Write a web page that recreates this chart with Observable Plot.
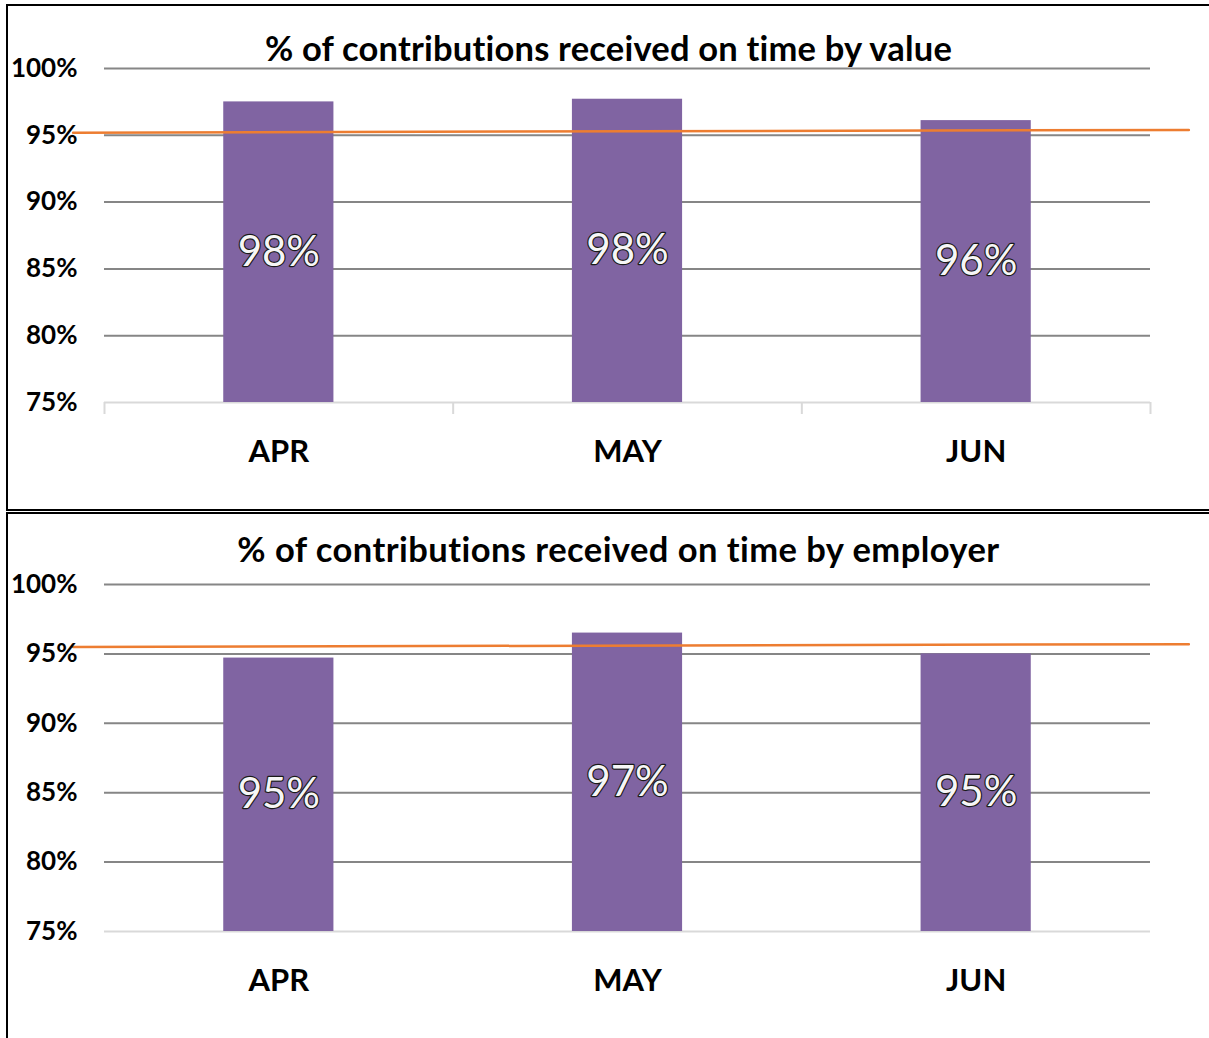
<!DOCTYPE html>
<html><head><meta charset="utf-8">
<script src="https://cdn.jsdelivr.net/npm/d3@7"></script>
<script src="https://cdn.jsdelivr.net/npm/@observablehq/plot@0.6"></script>
<style>
body{margin:0;width:1209px;height:1038px;overflow:hidden;background:#fff;position:relative;font-family:Lato,sans-serif}
.box{position:absolute;left:6px;width:1260px;border:2px solid #000;box-sizing:border-box}
.title{position:absolute;left:0;width:1217px;text-align:center;font-weight:700;font-size:34.5px;line-height:34px;color:#000;white-space:nowrap;font-variant-ligatures:none;letter-spacing:0.2px}
.chart{position:absolute;left:0}
svg text{font-variant-ligatures:none}
g[aria-label="value labels"] text{filter:drop-shadow(1.5px 1.5px 1px rgba(0,0,0,.55))}
</style></head>
<body>
<div class="box" style="top:4px;height:507px"></div>
<div class="box" style="top:512px;height:600px"></div>
<div id="c1" class="chart" style="top:0px"></div>
<div id="c2" class="chart" style="top:512px"></div>
<div class="title" style="top:31px">% of contributions received on time by value</div>
<div class="title" style="top:532px;left:10px;letter-spacing:0.45px">% of contributions received on time by employer</div>
<script>
const months = ["APR", "MAY", "JUN"];
const byValue = [97.5, 97.7, 96.1];
const byEmployer = [94.7, 96.5, 95.0];
const valueTarget = [95.2, 95.4];
const employerTarget = [95.5, 95.7];
const targetSpan = [-0.59, 2.61];
const yTicks = [75, 80, 85, 90, 95, 100];
const gridTicks = [80, 85, 90, 95, 100];
const categoryBounds = [-0.5, 0.5, 1.5, 2.5];

function makeChart(values, target, height, marginTop, showTicks) {
  const data = months.map((m, i) => ({i, m, v: values[i], label: Math.round(values[i]) + "%"}));
  const tgt = targetSpan.map((x, k) => ({x, y: target[k]}));
  const half = 0.158;
  return Plot.plot({
    width: 1209, height,
    marginLeft: 104, marginRight: 59, marginTop, marginBottom: 107,
    style: {background: "transparent", overflow: "visible", fontFamily: "Lato, sans-serif", maxWidth: "none"},
    x: {type: "linear", domain: [-0.5, 2.5]},
    y: {domain: [75, 100]},
    marks: [
      Plot.ruleY(gridTicks, {stroke: "#868686", strokeWidth: 2}),
      Plot.ruleY([75], {stroke: "#d9d9d9", strokeWidth: 2}),
      showTicks ? Plot.axisX(categoryBounds, {tickSize: 12, tickFormat: () => "", stroke: "#d9d9d9", strokeWidth: 2}) : null,
      Plot.rectY(data, {x1: d => d.i - half, x2: d => d.i + half, y1: 75, y2: "v", fill: "#8064a2"}),
      Plot.line(tgt, {x: "x", y: "y", stroke: "#ed7d31", strokeWidth: 2.5}),
      Plot.text(data, {x: "i", y: d => (75 + d.v) / 2, text: "label", fill: "#f6f6f6", stroke: "#1a1a1a", strokeWidth: 2.4, paintOrder: "stroke", fontSize: 42, ariaLabel: "value labels"}),
      Plot.axisY(yTicks, {tickSize: 0, tickPadding: 27, tickFormat: d => d + "%", fontSize: 26, fontWeight: "bold", fill: "#000", label: null}),
      Plot.axisX([0, 1, 2], {tickSize: 0, tickPadding: 37, tickFormat: i => months[i], fontSize: 31, fontWeight: "bold", fill: "#000", label: null})
    ]
  });
}
document.getElementById("c1").appendChild(makeChart(byValue, valueTarget, 509, 68, true));
document.getElementById("c2").appendChild(makeChart(byEmployer, employerTarget, 526, 72, false));
</script>
</body></html>
